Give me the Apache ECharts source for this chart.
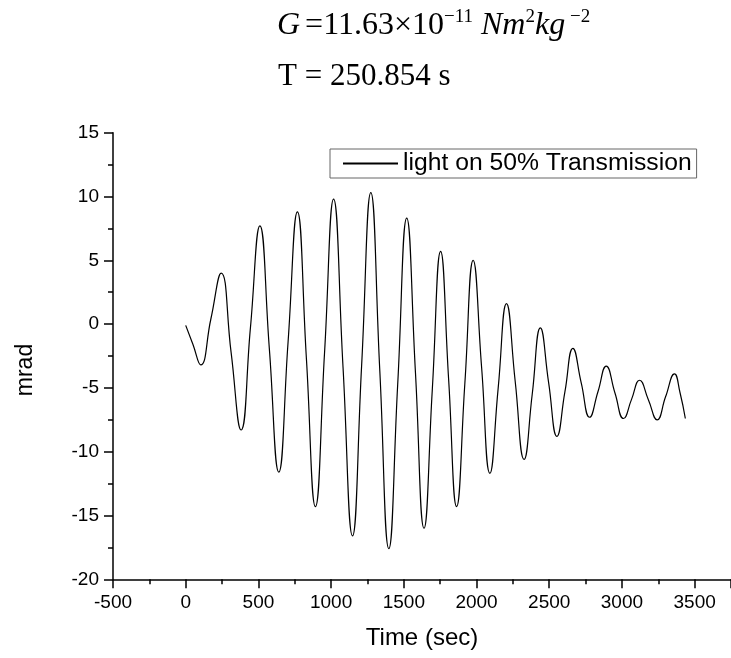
<!DOCTYPE html>
<html>
<head>
<meta charset="utf-8">
<script src="https://cdn.jsdelivr.net/npm/echarts@6/dist/echarts.min.js"></script>
<style>
html,body{margin:0;padding:0;background:#fff;}
#chart{width:731px;height:658px;}
</style>
</head>
<body>
<div id="chart"></div>
<script>
// Time (s) of read-off points along the trace
var timeSec = [0, 50, 103, 173, 244, 312, 381, 445, 510, 575, 640, 704, 768, 830, 892, 955, 1017, 1082, 1147, 1210, 1273, 1335, 1397, 1458, 1520, 1580, 1639, 1696, 1753, 1808, 1863, 1920, 1977, 2035, 2092, 2149, 2206, 2266, 2327, 2383, 2439, 2496, 2553, 2608, 2663, 2720, 2778, 2835, 2892, 2952, 3011, 3066, 3121, 3181, 3242, 3300, 3361, 3400, 3436];
// Deflection (mrad) read at those times
var mrad = [-0.1, -1.6, -3.2, 0.4, 4.0, -2.2, -8.3, -0.3, 7.7, -1.9, -11.6, -1.4, 8.8, -2.7, -14.3, -2.2, 9.8, -3.4, -16.6, -3.2, 10.3, -3.7, -17.6, -4.7, 8.3, -3.8, -16.0, -5.1, 5.7, -4.3, -14.3, -4.6, 5.0, -3.4, -11.7, -5.0, 1.6, -4.5, -10.6, -5.5, -0.3, -4.6, -8.8, -5.3, -1.9, -4.6, -7.3, -5.3, -3.3, -5.4, -7.4, -5.9, -4.4, -5.9, -7.5, -5.7, -3.9, -5.4, -7.4];
var seriesName = 'light on 50% Transmission';
var xTicks = {min: -500, max: 3750, step: 500};
var yTicks = {min: -20, max: 15, step: 5};

var pts = timeSec.map(function (t, i) { return [t, mrad[i]]; });

var chart = echarts.init(document.getElementById('chart'), null, {renderer: 'canvas'});
var axisText = {color: '#000', fontFamily: 'Liberation Sans', fontSize: 19};
var plain = function (v) { return String(v); };
chart.setOption({
  animation: false,
  backgroundColor: '#fff',
  title: [{
    left: 277, top: 8, padding: 0,
    text: '{i|G} {n|=11.63×10}{sup|−11}{i| Nm}{sup|2}{i|kg}{sup| −2}',
    textStyle: {
      fontWeight: 'normal',
      rich: {
        i: {fontFamily: 'Liberation Serif', fontStyle: 'italic', fontWeight: 'normal', fontSize: 32, color: '#000', lineHeight: 34, verticalAlign: 'bottom'},
        n: {fontFamily: 'Liberation Serif', fontWeight: 'normal', fontSize: 32, color: '#000', lineHeight: 34, verticalAlign: 'bottom'},
        sup: {fontFamily: 'Liberation Serif', fontWeight: 'normal', fontSize: 19, color: '#000', lineHeight: 34, verticalAlign: 'top'}
      }
    }
  }, {
    left: 278, top: 61, padding: 0,
    text: 'T = 250.854 s',
    textStyle: {fontFamily: 'Liberation Serif', fontWeight: 'normal', fontSize: 31, color: '#000'}
  }],
  legend: {
    left: 330, top: 149,
    padding: [2, 5, 2, 12],
    borderColor: '#666', borderWidth: 1,
    itemWidth: 55, itemHeight: 12, itemGap: 8,
    itemStyle: {opacity: 0},
    textStyle: {color: '#000', fontFamily: 'Liberation Sans', fontSize: 24.7},
    data: [seriesName]
  },
  grid: {left: 113, top: 132.7, right: -2, bottom: 78.7, containLabel: false},
  xAxis: {
    type: 'value', min: xTicks.min, max: xTicks.max, interval: xTicks.step,
    name: 'Time (sec)', nameLocation: 'middle', nameGap: 47,
    nameTextStyle: {color: '#000', fontFamily: 'Liberation Sans', fontSize: 24},
    axisLine: {onZero: false, lineStyle: {color: '#000', width: 1.5}},
    axisTick: {inside: false, length: 9, lineStyle: {color: '#000', width: 1.5}},
    minorTick: {show: true, splitNumber: 2, length: 5, lineStyle: {color: '#000', width: 1.5}},
    axisLabel: Object.assign({margin: 14, showMaxLabel: false, formatter: plain}, axisText),
    splitLine: {show: false}
  },
  yAxis: {
    type: 'value', min: yTicks.min, max: yTicks.max, interval: yTicks.step,
    name: 'mrad', nameLocation: 'middle', nameGap: 76, nameRotate: 90,
    nameTextStyle: {color: '#000', fontFamily: 'Liberation Sans', fontSize: 23, padding: [0, 28, 0, 0]},
    axisLine: {show: true, onZero: false, lineStyle: {color: '#000', width: 1.5}},
    axisTick: {show: true, inside: false, length: 9, lineStyle: {color: '#000', width: 1.5}},
    minorTick: {show: true, splitNumber: 2, length: 5, lineStyle: {color: '#000', width: 1.5}},
    axisLabel: Object.assign({margin: 14, formatter: plain}, axisText),
    splitLine: {show: false}
  },
  series: [{
    name: seriesName,
    type: 'line',
    data: pts,
    symbol: 'none',
    smooth: 0.5,
    color: '#000',
    lineStyle: {color: '#000', width: 1.2}
  }]
});
</script>
</body>
</html>
